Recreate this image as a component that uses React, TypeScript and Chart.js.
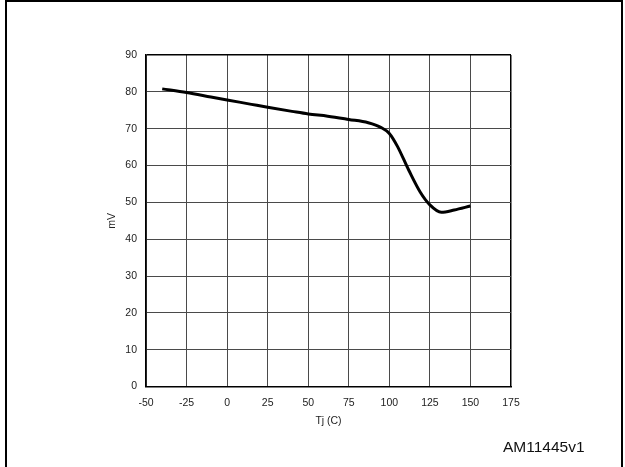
import React, { useEffect, useRef } from "react";
import { Chart, registerables } from "chart.js";

Chart.register(...registerables);

const tempC: number[] = [-40, -25, -10, 0, 15, 25, 40, 50, 62, 75, 87, 95, 100, 105, 112, 119, 125, 132, 140, 150];
const milliVolts: number[] = [80.8, 79.8, 78.6, 77.8, 76.6, 75.8, 74.7, 74.0, 73.4, 72.5, 71.6, 70.3, 68.7, 65.2, 58.7, 52.8, 49.3, 47.3, 47.9, 49.0];
const xMin = -50;
const xMax = 175;
const xStep = 25;
const yMin = 0;
const yMax = 90;
const yStep = 10;
const xTitle = "Tj (C)";
const yTitle = "mV";
const figureCode = "AM11445v1";

export default function App() {
  const ref = useRef<HTMLCanvasElement | null>(null);

  useEffect(() => {
    document.body.style.margin = "0";
    const canvas = ref.current;
    if (!canvas) return;
    const font = { family: "'Liberation Sans', Arial, sans-serif", size: 10.5 };
    const chart = new Chart(canvas, {
      type: "line",
      data: {
        datasets: [
          {
            data: tempC.map((t, i) => ({ x: t, y: milliVolts[i] })),
            borderColor: "#000",
            borderWidth: 3,
            pointRadius: 0,
            fill: false,
            cubicInterpolationMode: "monotone",
          },
        ],
      },
      options: {
        responsive: false,
        animation: false,
        devicePixelRatio: 1,
        layout: { padding: { left: 100, top: 55, right: 114, bottom: 35.5 } },
        plugins: { legend: { display: false }, tooltip: { enabled: false } },
        scales: {
          x: {
            type: "linear",
            min: xMin,
            max: xMax,
            afterFit: (s: any) => {
              s.height = 45;
            },
            ticks: { stepSize: xStep, color: "#222", font, padding: 10, maxRotation: 0 },
            grid: {
              drawTicks: false,
              color: (c: any) => (c.tick && c.tick.value === xMax ? "#000" : "#4a4a4a"),
              lineWidth: (c: any) => (c.tick && c.tick.value === xMax ? 1.5 : 1),
            },
            border: { color: "#000", width: 1.5 },
            title: { display: true, text: xTitle, color: "#222", font, padding: { top: 4, bottom: 4 } },
          },
          y: {
            type: "linear",
            min: yMin,
            max: yMax,
            afterFit: (s: any) => {
              s.width = 46;
            },
            ticks: { stepSize: yStep, color: "#222", font, padding: 9 },
            grid: {
              drawTicks: false,
              color: (c: any) => (c.tick && c.tick.value === yMax ? "#000" : "#4a4a4a"),
              lineWidth: (c: any) => (c.tick && c.tick.value === yMax ? 1.5 : 1),
            },
            border: { color: "#000", width: 1.5 },
            title: { display: true, text: yTitle, color: "#222", font, padding: { top: 6, bottom: 4 } },
          },
        },
      },
    } as any);
    return () => chart.destroy();
  }, []);

  return (
    <div style={{ position: "relative", width: 625, height: 467, overflow: "hidden", background: "#fff" }}>
      <canvas ref={ref} width={625} height={467} style={{ position: "absolute", left: 0, top: 0, width: 625, height: 467 }} />
      <div
        style={{
          position: "absolute",
          left: 5,
          top: 0,
          width: 618,
          height: 480,
          boxSizing: "border-box",
          borderTop: "2px solid #000",
          borderLeft: "2px solid #000",
          borderRight: "2px solid #000",
          pointerEvents: "none",
        }}
      />
      <div
        style={{
          position: "absolute",
          left: 503,
          top: 438,
          fontFamily: "'Liberation Sans', Arial, sans-serif",
          fontSize: 15.5,
          lineHeight: "18px",
          color: "#111",
          whiteSpace: "nowrap",
        }}
      >
        {figureCode}
      </div>
    </div>
  );
}
